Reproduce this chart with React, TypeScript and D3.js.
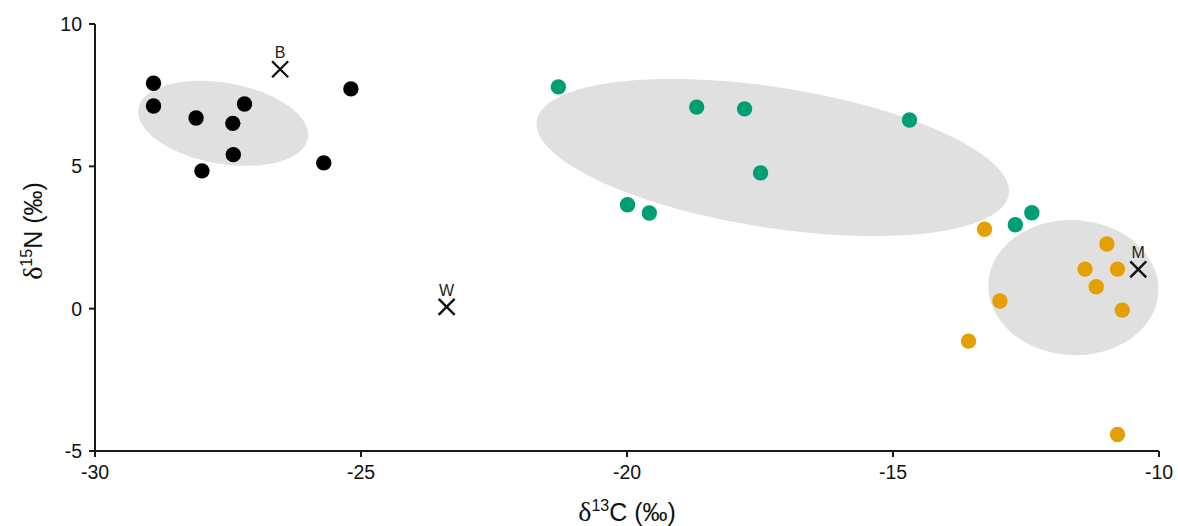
import React from "react";
import * as d3 from "d3";

// Stable isotope values per group (δ13C, δ15N)
const blackC = [-28.9, -28.9, -28.1, -27.19, -27.41, -27.4, -27.99, -25.19, -25.7];
const blackN = [7.92, 7.12, 6.7, 7.19, 6.51, 5.41, 4.84, 7.72, 5.12];

const greenC = [-21.29, -18.69, -17.79, -14.69, -17.49, -19.99, -19.58, -12.7, -12.39];
const greenN = [7.79, 7.08, 7.02, 6.63, 4.77, 3.65, 3.36, 2.95, 3.37];

const orangeC = [-13.28, -10.98, -11.39, -10.78, -11.18, -12.99, -10.69, -13.58, -10.78];
const orangeN = [2.79, 2.27, 1.39, 1.39, 0.77, 0.27, -0.05, -1.14, -4.42];

// Source end-members
const sourceLabels = ["B", "W", "M"];
const sourceC = [-26.52, -23.39, -10.39];
const sourceN = [8.41, 0.06, 1.38];

// Ellipses: centre and covariance (data units)
const ellipseCenterC = [-27.59, -17.26, -11.61];
const ellipseCenterN = [6.51, 5.31, 0.74];
const ellipseVarC = [2.553, 19.71, 2.553];
const ellipseVarN = [2.231, 7.61, 5.63];
const ellipseCov = [-0.646, -5.243, -0.1];

const xTicks = [-30, -25, -20, -15, -10];
const yTicks = [-5, 0, 5, 10];

const groupColors = ["#000000", "#009E73", "#E69F00"];

const W = 1178;
const H = 526;
const x = d3.scaleLinear().domain([-30, -10]).range([95, 1159]);
const y = d3.scaleLinear().domain([-5, 10]).range([451, 24]);

function ellipsePath(i: number): string {
  const l11 = Math.sqrt(ellipseVarC[i]);
  const l21 = ellipseCov[i] / l11;
  const l22 = Math.sqrt(ellipseVarN[i] - l21 * l21);
  const pts: [number, number][] = d3.range(0, 361, 2).map((deg) => {
    const t = (deg * Math.PI) / 180;
    const u = Math.cos(t);
    const v = Math.sin(t);
    const c = ellipseCenterC[i] + l11 * u;
    const n = ellipseCenterN[i] + l21 * u + l22 * v;
    return [x(c), y(n)];
  });
  return d3.line().curve(d3.curveLinearClosed)(pts) || "";
}

const groups = [
  { c: blackC, n: blackN },
  { c: greenC, n: greenN },
  { c: orangeC, n: orangeN },
];

const sans = "'Liberation Sans', Arial, sans-serif";
const serif = "'Liberation Serif', 'Times New Roman', serif";

export default function App() {
  const axisColor = "#1a1a1a";
  return (
    <svg
      width={W}
      height={H}
      style={{ position: "absolute", left: 0, top: 0, background: "#fff" }}
    >
      {/* ellipses */}
      {[0, 1, 2].map((i) => (
        <path key={"e" + i} d={ellipsePath(i)} fill="#e0e0e0" stroke="none" />
      ))}

      {/* axes */}
      <line x1={x(-30)} x2={x(-10)} y1={y(-5)} y2={y(-5)} stroke={axisColor} strokeWidth={2} />
      <line x1={x(-30)} x2={x(-30)} y1={y(-5)} y2={y(10)} stroke={axisColor} strokeWidth={2} />
      {xTicks.map((t) => (
        <g key={"xt" + t}>
          <line x1={x(t)} x2={x(t)} y1={y(-5)} y2={y(-5) + 6} stroke={axisColor} strokeWidth={2} />
          <text x={x(t)} y={479} textAnchor="middle" fontFamily={sans} fontSize={19.5} fill="#111">
            {t}
          </text>
        </g>
      ))}
      {yTicks.map((t) => (
        <g key={"yt" + t}>
          <line x1={x(-30) - 6} x2={x(-30)} y1={y(t)} y2={y(t)} stroke={axisColor} strokeWidth={2} />
          <text x={82} y={y(t) + 7} textAnchor="end" fontFamily={sans} fontSize={19.5} fill="#111">
            {t}
          </text>
        </g>
      ))}

      {/* axis titles */}
      <text x={627} y={521} textAnchor="middle" fontFamily={sans} fontSize={25} fill="#111">
        <tspan fontFamily={serif} fontSize={28}>δ</tspan>
        <tspan fontSize={16} dy={-10}>13</tspan>
        <tspan dy={10}>C (‰)</tspan>
      </text>
      <text
        transform="translate(42,231) rotate(-90)"
        textAnchor="middle"
        fontFamily={sans}
        fontSize={25}
        fill="#111"
      >
        <tspan fontFamily={serif} fontSize={28}>δ</tspan>
        <tspan fontSize={16} dy={-10}>15</tspan>
        <tspan dy={10}>N (‰)</tspan>
      </text>

      {/* points */}
      {groups.map((g, gi) =>
        g.c.map((c, j) => (
          <circle key={`p${gi}-${j}`} cx={x(c)} cy={y(g.n[j])} r={7.7} fill={groupColors[gi]} />
        ))
      )}

      {/* sources */}
      {sourceLabels.map((lab, i) => {
        const cx = x(sourceC[i]);
        const cy = y(sourceN[i]);
        const s = 8;
        return (
          <g key={"s" + lab}>
            <path
              d={`M${cx - s},${cy - s}L${cx + s},${cy + s}M${cx - s},${cy + s}L${cx + s},${cy - s}`}
              stroke="#111"
              strokeWidth={2.4}
              fill="none"
            />
            <text x={cx} y={cy - 11} textAnchor="middle" fontFamily={sans} fontSize={16} fill="#222">
              {lab}
            </text>
          </g>
        );
      })}
    </svg>
  );
}
